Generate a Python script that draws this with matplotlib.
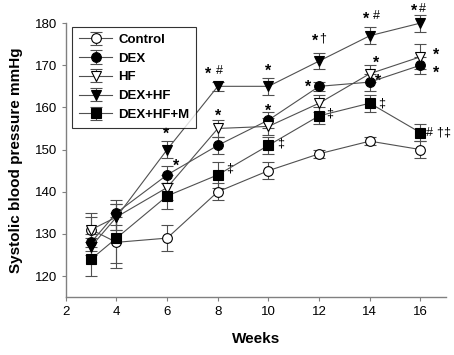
import matplotlib
matplotlib.use("Agg")
import matplotlib.pyplot as plt

plt.rcParams["font.family"] = ["Liberation Sans", "DejaVu Sans"]

weeks = [3, 4, 6, 8, 10, 12, 14, 16]

control = [131, 128, 129, 140, 145, 149, 152, 150]
control_err = [4, 6, 3, 2, 2, 1, 1, 2]
dex = [128, 135, 144, 151, 157, 165, 166, 170]
dex_err = [2, 3, 2, 2, 2, 1, 2, 2]
hf = [131, 134, 141, 155, 155.5, 161, 168, 172]
hf_err = [3, 3, 3, 2, 2, 2, 2, 3]
dex_hf = [127, 134, 150, 165, 165, 171, 177, 180]
dex_hf_err = [2, 3, 2, 1, 2, 2, 2, 2]
dex_hf_m = [124, 129, 139, 144, 151, 158, 161, 154]
dex_hf_m_err = [4, 6, 3, 3, 2, 2, 2, 2]

series = [
    ("Control", control, control_err, "o", "white"),
    ("DEX", dex, dex_err, "o", "black"),
    ("HF", hf, hf_err, "v", "white"),
    ("DEX+HF", dex_hf, dex_hf_err, "v", "black"),
    ("DEX+HF+M", dex_hf_m, dex_hf_m_err, "s", "black"),
]

# significance marks, one glyph each: (week, value, glyph)
marks = [
    (5.94, 154.5, "*"), (6.34, 146.9, "*"),
    (7.6, 168.6, "*"), (8.07, 168.6, "#"), (8.0, 158.6, "*"), (8.47, 145.5, "‡"),
    (9.97, 169.3, "*"), (10.0, 159.8, "*"), (10.48, 151.4, "‡"),
    (11.82, 176.4, "*"), (12.13, 176.4, "†"), (11.58, 165.7, "*"), (12.41, 158.6, "‡"),
    (13.87, 181.7, "*"), (14.26, 181.7, "#"), (14.26, 171.4, "*"), (14.34, 167.1, "*"),
    (14.46, 161, "‡"),
    (15.76, 183.6, "*"), (16.08, 183.4, "#"), (16.63, 173.2, "*"), (16.63, 169.0, "*"),
    (16.35, 154, "#"), (16.75, 154, "†"), (17.02, 154, "‡"),
]

fig = plt.figure(figsize=(4.54, 3.55), dpi=100)
ax = fig.add_axes([0.145, 0.163, 0.837, 0.772])

for name, vals, err, mk, fc in series:
    ax.errorbar(weeks, vals, yerr=err, color="#505050", lw=0.8, elinewidth=0.8,
                capsize=4, capthick=0.8, marker=mk, markersize=7,
                markerfacecolor=fc, markeredgecolor="black", markeredgewidth=0.8,
                label=name, zorder=3, clip_on=False)

for x, y, t in marks:
    if t == "*":
        ax.annotate(t, (x, y), xytext=(0, -2.5), textcoords="offset points",
                    ha="center", va="center", fontsize=11.5, fontweight="bold",
                    annotation_clip=False)
    else:
        ax.annotate(t, (x, y), ha="center", va="center", fontsize=9,
                    annotation_clip=False)

ax.set_xlim(2, 17)
ax.set_ylim(115, 180)
ax.set_xticks([2, 4, 6, 8, 10, 12, 14, 16])
ax.set_yticks([120, 130, 140, 150, 160, 170, 180])
ax.spines["top"].set_visible(False)
ax.spines["right"].set_visible(False)
for s in ("left", "bottom"):
    ax.spines[s].set_color("#808080")
    ax.spines[s].set_linewidth(1.0)
ax.tick_params(direction="out", length=3, color="#808080", labelsize=9.5)

ax.set_xlabel("Weeks", fontsize=11, fontweight="bold", labelpad=10)
ax.set_ylabel("Systolic blood pressure mmHg", fontsize=11, fontweight="bold", labelpad=8)

leg = ax.legend(loc="upper left", bbox_to_anchor=(0.0, 1.01), fontsize=9.5,
                frameon=True, fancybox=False, edgecolor="black", handlelength=2.5,
                labelspacing=0.5, borderpad=0.5, handletextpad=0.5)
leg.get_frame().set_linewidth(0.8)
for t in leg.get_texts():
    t.set_fontweight("bold")

fig.savefig("out.png", dpi=100)
